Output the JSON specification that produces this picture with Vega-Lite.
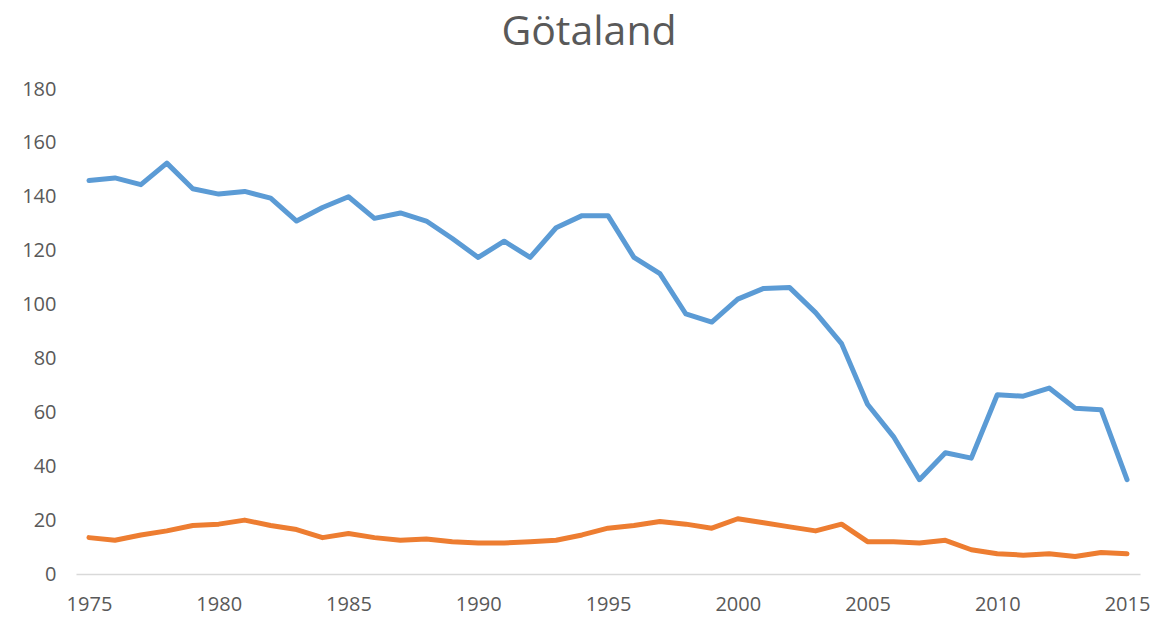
{
  "$schema": "https://vega.github.io/schema/vega-lite/v6.json",
  "autosize": "none",
  "width": 1064,
  "height": 485,
  "padding": {"left": 76, "top": 89, "right": 13, "bottom": 45},
  "background": "white",
  "title": {"text": "Götaland", "fontSize": 41, "font": "Open Sans", "fontWeight": "normal", "color": "#595959", "anchor": "middle", "frame": "group", "offset": 25, "dx": -19},
  "config": {"view": {"stroke": null}},
  "datasets": {
    "rows": [
      {"year": 1975, "series": "Serie 1", "value": 146}, {"year": 1976, "series": "Serie 1", "value": 147}, {"year": 1977, "series": "Serie 1", "value": 144.5}, {"year": 1978, "series": "Serie 1", "value": 152.5}, {"year": 1979, "series": "Serie 1", "value": 143}, {"year": 1980, "series": "Serie 1", "value": 141}, {"year": 1981, "series": "Serie 1", "value": 142}, {"year": 1982, "series": "Serie 1", "value": 139.5}, {"year": 1983, "series": "Serie 1", "value": 131}, {"year": 1984, "series": "Serie 1", "value": 136}, {"year": 1985, "series": "Serie 1", "value": 140}, {"year": 1986, "series": "Serie 1", "value": 132}, {"year": 1987, "series": "Serie 1", "value": 134}, {"year": 1988, "series": "Serie 1", "value": 131}, {"year": 1989, "series": "Serie 1", "value": 124.5}, {"year": 1990, "series": "Serie 1", "value": 117.5}, {"year": 1991, "series": "Serie 1", "value": 123.5}, {"year": 1992, "series": "Serie 1", "value": 117.5}, {"year": 1993, "series": "Serie 1", "value": 128.5}, {"year": 1994, "series": "Serie 1", "value": 133}, {"year": 1995, "series": "Serie 1", "value": 133}, {"year": 1996, "series": "Serie 1", "value": 117.5}, {"year": 1997, "series": "Serie 1", "value": 111.5}, {"year": 1998, "series": "Serie 1", "value": 96.5}, {"year": 1999, "series": "Serie 1", "value": 93.5}, {"year": 2000, "series": "Serie 1", "value": 102}, {"year": 2001, "series": "Serie 1", "value": 106}, {"year": 2002, "series": "Serie 1", "value": 106.3}, {"year": 2003, "series": "Serie 1", "value": 97}, {"year": 2004, "series": "Serie 1", "value": 85.5}, {"year": 2005, "series": "Serie 1", "value": 63}, {"year": 2006, "series": "Serie 1", "value": 51}, {"year": 2007, "series": "Serie 1", "value": 35}, {"year": 2008, "series": "Serie 1", "value": 45}, {"year": 2009, "series": "Serie 1", "value": 43}, {"year": 2010, "series": "Serie 1", "value": 66.5}, {"year": 2011, "series": "Serie 1", "value": 66}, {"year": 2012, "series": "Serie 1", "value": 69}, {"year": 2013, "series": "Serie 1", "value": 61.5}, {"year": 2014, "series": "Serie 1", "value": 61}, {"year": 2015, "series": "Serie 1", "value": 35},
      {"year": 1975, "series": "Serie 2", "value": 13.5}, {"year": 1976, "series": "Serie 2", "value": 12.5}, {"year": 1977, "series": "Serie 2", "value": 14.5}, {"year": 1978, "series": "Serie 2", "value": 16}, {"year": 1979, "series": "Serie 2", "value": 18}, {"year": 1980, "series": "Serie 2", "value": 18.5}, {"year": 1981, "series": "Serie 2", "value": 20}, {"year": 1982, "series": "Serie 2", "value": 18}, {"year": 1983, "series": "Serie 2", "value": 16.5}, {"year": 1984, "series": "Serie 2", "value": 13.5}, {"year": 1985, "series": "Serie 2", "value": 15}, {"year": 1986, "series": "Serie 2", "value": 13.5}, {"year": 1987, "series": "Serie 2", "value": 12.5}, {"year": 1988, "series": "Serie 2", "value": 13}, {"year": 1989, "series": "Serie 2", "value": 12}, {"year": 1990, "series": "Serie 2", "value": 11.5}, {"year": 1991, "series": "Serie 2", "value": 11.5}, {"year": 1992, "series": "Serie 2", "value": 12}, {"year": 1993, "series": "Serie 2", "value": 12.5}, {"year": 1994, "series": "Serie 2", "value": 14.5}, {"year": 1995, "series": "Serie 2", "value": 17}, {"year": 1996, "series": "Serie 2", "value": 18}, {"year": 1997, "series": "Serie 2", "value": 19.5}, {"year": 1998, "series": "Serie 2", "value": 18.5}, {"year": 1999, "series": "Serie 2", "value": 17}, {"year": 2000, "series": "Serie 2", "value": 20.5}, {"year": 2001, "series": "Serie 2", "value": 19}, {"year": 2002, "series": "Serie 2", "value": 17.5}, {"year": 2003, "series": "Serie 2", "value": 16}, {"year": 2004, "series": "Serie 2", "value": 18.5}, {"year": 2005, "series": "Serie 2", "value": 12}, {"year": 2006, "series": "Serie 2", "value": 12}, {"year": 2007, "series": "Serie 2", "value": 11.5}, {"year": 2008, "series": "Serie 2", "value": 12.5}, {"year": 2009, "series": "Serie 2", "value": 9}, {"year": 2010, "series": "Serie 2", "value": 7.5}, {"year": 2011, "series": "Serie 2", "value": 7}, {"year": 2012, "series": "Serie 2", "value": 7.5}, {"year": 2013, "series": "Serie 2", "value": 6.5}, {"year": 2014, "series": "Serie 2", "value": 8}, {"year": 2015, "series": "Serie 2", "value": 7.5}
    ]
  },
  "data": {"name": "rows"},
  "mark": {"type": "line", "strokeWidth": 5, "strokeJoin": "round", "strokeCap": "round"},
  "encoding": {
    "x": {
      "field": "year", "type": "quantitative",
      "scale": {"domain": [1974.5, 2015.5], "nice": false, "zero": false},
      "axis": {"title": null, "values": [1975, 1980, 1985, 1990, 1995, 2000, 2005, 2010, 2015], "format": "d", "grid": false, "ticks": false, "domainColor": "#d9d9d9", "domainWidth": 1.5, "labelFontSize": 20, "labelFont": "Open Sans", "labelColor": "#595959", "labelPadding": 20}
    },
    "y": {
      "field": "value", "type": "quantitative",
      "scale": {"domain": [0, 180], "nice": false},
      "axis": {"title": null, "values": [0, 20, 40, 60, 80, 100, 120, 140, 160, 180], "grid": false, "ticks": false, "domain": false, "labelFontSize": 20, "labelFont": "Open Sans", "labelColor": "#595959", "labelPadding": 20}
    },
    "color": {"field": "series", "type": "nominal", "scale": {"domain": ["Serie 1", "Serie 2"], "range": ["#5B9BD5", "#ED7D31"]}, "legend": null}
  }
}
